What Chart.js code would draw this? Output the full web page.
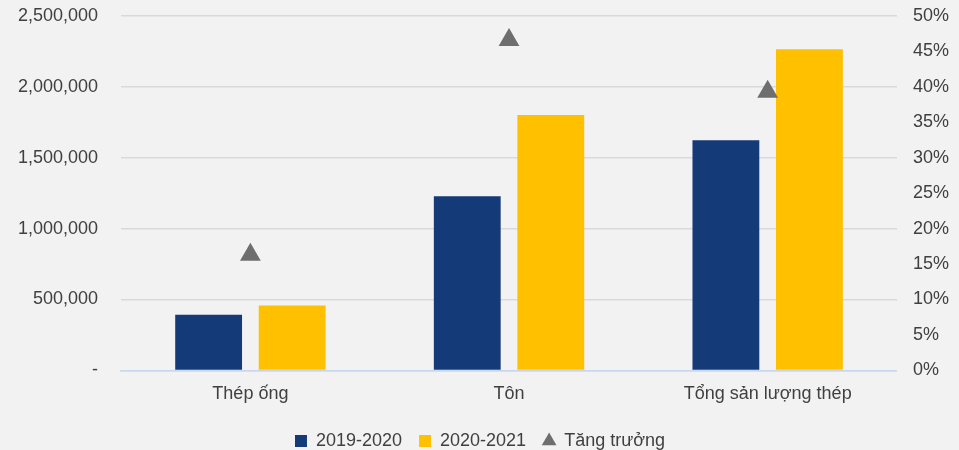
<!DOCTYPE html>
<html>
<head>
<meta charset="utf-8">
<script src="https://cdn.jsdelivr.net/npm/chart.js@4/dist/chart.umd.min.js"></script>
<style>
  html, body { margin: 0; padding: 0; background: #f2f2f2; }
  #wrap { width: 959px; height: 450px; }
</style>
</head>
<body>
<div id="wrap"><canvas id="productChart"></canvas></div>
<script>
const categories = ['Thép ống', 'Tôn', 'Tổng sản lượng thép'];
const seriesNames = ['2019-2020', '2020-2021', 'Tăng trưởng'];
const values2019 = [393000, 1229000, 1624000];
const values2020 = [457000, 1801000, 2265000];
const growth = [16.3, 46.6, 39.3]; // %
const leftTicks = [0, 500000, 1000000, 1500000, 2000000, 2500000];
const rightTicks = [0, 5, 10, 15, 20, 25, 30, 35, 40, 45, 50];

const font = { family: '"Liberation Sans", Arial, sans-serif', size: 18 };
const textColor = '#404040';

// chart.js reserves a lot of room above the top tick, trim it
function trimPadding(axis) {
  axis.paddingTop = 0;
  axis.paddingBottom = 0;
}

const ctx = document.getElementById('productChart').getContext('2d');
const chart = new Chart(ctx, {
  data: {
    labels: categories,
    datasets: [
      {
        type: 'bar',
        label: seriesNames[0],
        data: values2019,
        backgroundColor: '#153a78',
        yAxisID: 'y',
        categoryPercentage: 0.646,
        barPercentage: 0.8
      },
      {
        type: 'bar',
        label: seriesNames[1],
        data: values2020,
        backgroundColor: '#ffc000',
        yAxisID: 'y',
        categoryPercentage: 0.646,
        barPercentage: 0.8
      },
      {
        type: 'line',
        label: seriesNames[2],
        data: growth,
        yAxisID: 'y1',
        showLine: false,
        pointStyle: 'triangle',
        pointRadius: 12,
        pointHoverRadius: 12,
        backgroundColor: '#6e6e6e',
        borderColor: '#6e6e6e',
        borderWidth: 0,
        order: -1
      }
    ]
  },
  options: {
    responsive: true,
    maintainAspectRatio: false,
    animation: false,
    layout: { padding: { left: -5, right: -6, top: 16, bottom: -10 } },
    plugins: {
      tooltip: { enabled: false },
      legend: {
        position: 'bottom',
        labels: {
          font: font,
          color: textColor,
          usePointStyle: true,
          boxWidth: 12,
          boxHeight: 12,
          padding: 17,
          sort: (a, b) => a.datasetIndex - b.datasetIndex,
          generateLabels: (c) => c.data.datasets.map((d, i) => ({
            text: d.label,
            fillStyle: d.backgroundColor,
            strokeStyle: d.backgroundColor,
            lineWidth: 0,
            pointStyle: d.type === 'line' ? 'triangle' : 'rect',
            fontColor: textColor,
            datasetIndex: i
          }))
        }
      }
    },
    scales: {
      x: {
        grid: { display: false },
        border: { display: true, color: '#c9d7ee', width: 1.5 },
        ticks: { font: font, color: textColor, padding: 5 },
        afterFit: (axis) => { axis.height += 5; }
      },
      y: {
        position: 'left',
        min: 0,
        max: 2500000,
        afterBuildTicks: (axis) => { axis.ticks = leftTicks.map(v => ({ value: v })); },
        afterFit: trimPadding,
        grid: {
          color: (c) => c.tick && c.tick.value === 0 ? '#c9d7ee' : '#d9d9d9',
          lineWidth: 1.5,
          drawTicks: false
        },
        border: { display: false },
        ticks: {
          font: font,
          color: textColor,
          padding: 23,
          callback: (v) => v === 0 ? '-' : v.toLocaleString('en-US')
        }
      },
      y1: {
        position: 'right',
        min: 0,
        max: 50,
        afterBuildTicks: (axis) => { axis.ticks = rightTicks.map(v => ({ value: v })); },
        afterFit: trimPadding,
        grid: { display: false, drawTicks: false },
        border: { display: false },
        ticks: {
          font: font,
          color: textColor,
          padding: 16,
          callback: (v) => v + '%'
        }
      }
    }
  }
});
</script>
</body>
</html>
